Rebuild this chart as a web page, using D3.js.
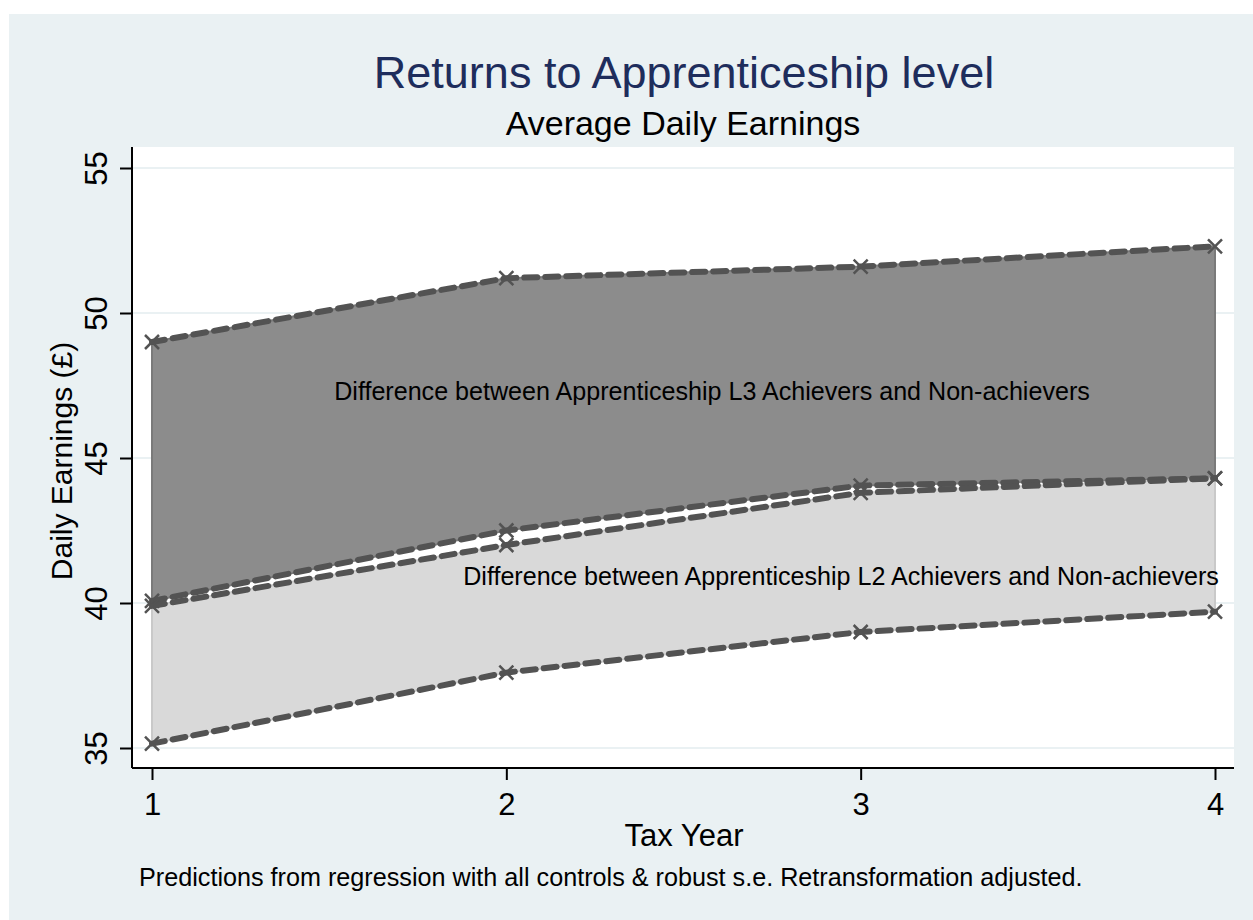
<!DOCTYPE html>
<html><head><meta charset="utf-8">
<script src="https://cdn.jsdelivr.net/npm/d3@7"></script>
<style>
html,body{margin:0;padding:0;background:#fff;}
text{font-family:"Liberation Sans",Arial,sans-serif;}
</style></head>
<body><svg id="chart" width="1253" height="920"></svg>
<script>
const years = [1, 2, 3, 4];
const l3Achievers = [49.0, 51.2, 51.6, 52.3];
const l3NonAchievers = [40.07, 42.5, 44.05, 44.3];
const l2Achievers = [39.9, 42.0, 43.8, 44.3];
const l2NonAchievers = [35.15, 37.6, 39.0, 39.7];
const yTicks = [35, 40, 45, 50, 55];
const xTicks = [1, 2, 3, 4];

const svg = d3.select("#chart");
svg.append("rect").attr("x", 9).attr("y", 14).attr("width", 1244).attr("height", 906).attr("fill", "#eaf1f3");

const plot = {left: 132, right: 1234, top: 147, bottom: 768};
svg.append("rect").attr("x", plot.left).attr("y", plot.top)
  .attr("width", plot.right - plot.left).attr("height", plot.bottom - plot.top).attr("fill", "#fff");

const x = d3.scaleLinear().domain([1, 4]).range([152, 1215]);
const y = d3.scaleLinear().domain([35, 55]).range([748, 168]);

// gridlines
svg.append("g").selectAll("line").data(yTicks).join("line")
  .attr("x1", plot.left).attr("x2", plot.right)
  .attr("y1", d => y(d)).attr("y2", d => y(d))
  .attr("stroke", "#eaf1f3").attr("stroke-width", 2);

const rows = (hi, lo) => years.map((t, i) => ({t, hi: hi[i], lo: lo[i]}));
const area = d3.area().x(d => x(d.t)).y0(d => y(d.lo)).y1(d => y(d.hi));

svg.append("path").datum(rows(l3Achievers, l3NonAchievers)).attr("d", area)
  .attr("fill", "#8c8c8c").attr("stroke", "#7a7a7a").attr("stroke-width", 2);
svg.append("path").datum(rows(l2Achievers, l2NonAchievers)).attr("d", area)
  .attr("fill", "#d9d9d9").attr("stroke", "#c9c9c9").attr("stroke-width", 2);

const line = d3.line().x(d => x(d.t)).y(d => y(d.v));
const seriesList = [l3Achievers, l3NonAchievers, l2Achievers, l2NonAchievers];
seriesList.forEach(s => {
  const pts = years.map((t, i) => ({t, v: s[i]}));
  svg.append("path").datum(pts).attr("d", line)
    .attr("fill", "none").attr("stroke", "#535353").attr("stroke-width", 6)
    .attr("stroke-dasharray", "13 8").attr("stroke-linecap", "round");
  const m = 7;
  const g = svg.append("g");
  g.selectAll("path").data(pts).join("path")
    .attr("d", d => `M${x(d.t)-m},${y(d.v)-m}L${x(d.t)+m},${y(d.v)+m}M${x(d.t)-m},${y(d.v)+m}L${x(d.t)+m},${y(d.v)-m}`)
    .attr("stroke", "#535353").attr("stroke-width", 2.5).attr("fill", "none");
});

// axes
const yAxis = svg.append("g").attr("transform", `translate(${plot.left},0)`)
  .call(d3.axisLeft(y).tickValues(yTicks).tickSize(12).tickFormat(d3.format("d")));
yAxis.select(".domain").attr("d", `M0,${plot.top}V${plot.bottom}`).attr("stroke", "#000").attr("stroke-width", 2);
yAxis.selectAll(".tick line").attr("stroke", "#000").attr("stroke-width", 2);
yAxis.selectAll(".tick text").attr("font-size", 31).attr("fill", "#000")
  .attr("x", null).attr("dy", null).attr("text-anchor", "middle")
  .attr("transform", "translate(-25,0) rotate(-90)");

const xAxis = svg.append("g").attr("transform", `translate(0,${plot.bottom})`)
  .call(d3.axisBottom(x).tickValues(xTicks).tickSize(12).tickFormat(d3.format("d")));
xAxis.select(".domain").attr("d", `M${plot.left},0H${plot.right}`).attr("stroke", "#000").attr("stroke-width", 2);
xAxis.selectAll(".tick line").attr("stroke", "#000").attr("stroke-width", 2);
xAxis.selectAll(".tick text").attr("font-size", 31).attr("fill", "#000").attr("y", 47).attr("dy", null);

// titles
svg.append("text").attr("x", 684).attr("y", 88).attr("text-anchor", "middle")
  .attr("font-size", 45).attr("fill", "#1e2d5c").text("Returns to Apprenticeship level");
svg.append("text").attr("x", 683).attr("y", 135).attr("text-anchor", "middle")
  .attr("font-size", 34).attr("fill", "#000").text("Average Daily Earnings");
svg.append("text").attr("x", 684).attr("y", 846).attr("text-anchor", "middle")
  .attr("font-size", 31).attr("fill", "#000").text("Tax Year");
svg.append("text").attr("transform", "translate(72,461) rotate(-90)").attr("text-anchor", "middle")
  .attr("font-size", 30).attr("fill", "#000").text("Daily Earnings (£)");
svg.append("text").attr("x", 139).attr("y", 886)
  .attr("font-size", 25.2).attr("fill", "#000").text("Predictions from regression with all controls & robust s.e. Retransformation adjusted.");

// annotations
svg.append("text").attr("x", 712).attr("y", 400).attr("text-anchor", "middle")
  .attr("font-size", 25.1).attr("fill", "#000").text("Difference between Apprenticeship L3 Achievers and Non-achievers");
svg.append("text").attr("x", 841).attr("y", 585).attr("text-anchor", "middle")
  .attr("font-size", 25.1).attr("fill", "#000").text("Difference between Apprenticeship L2 Achievers and Non-achievers");
</script></body></html>
